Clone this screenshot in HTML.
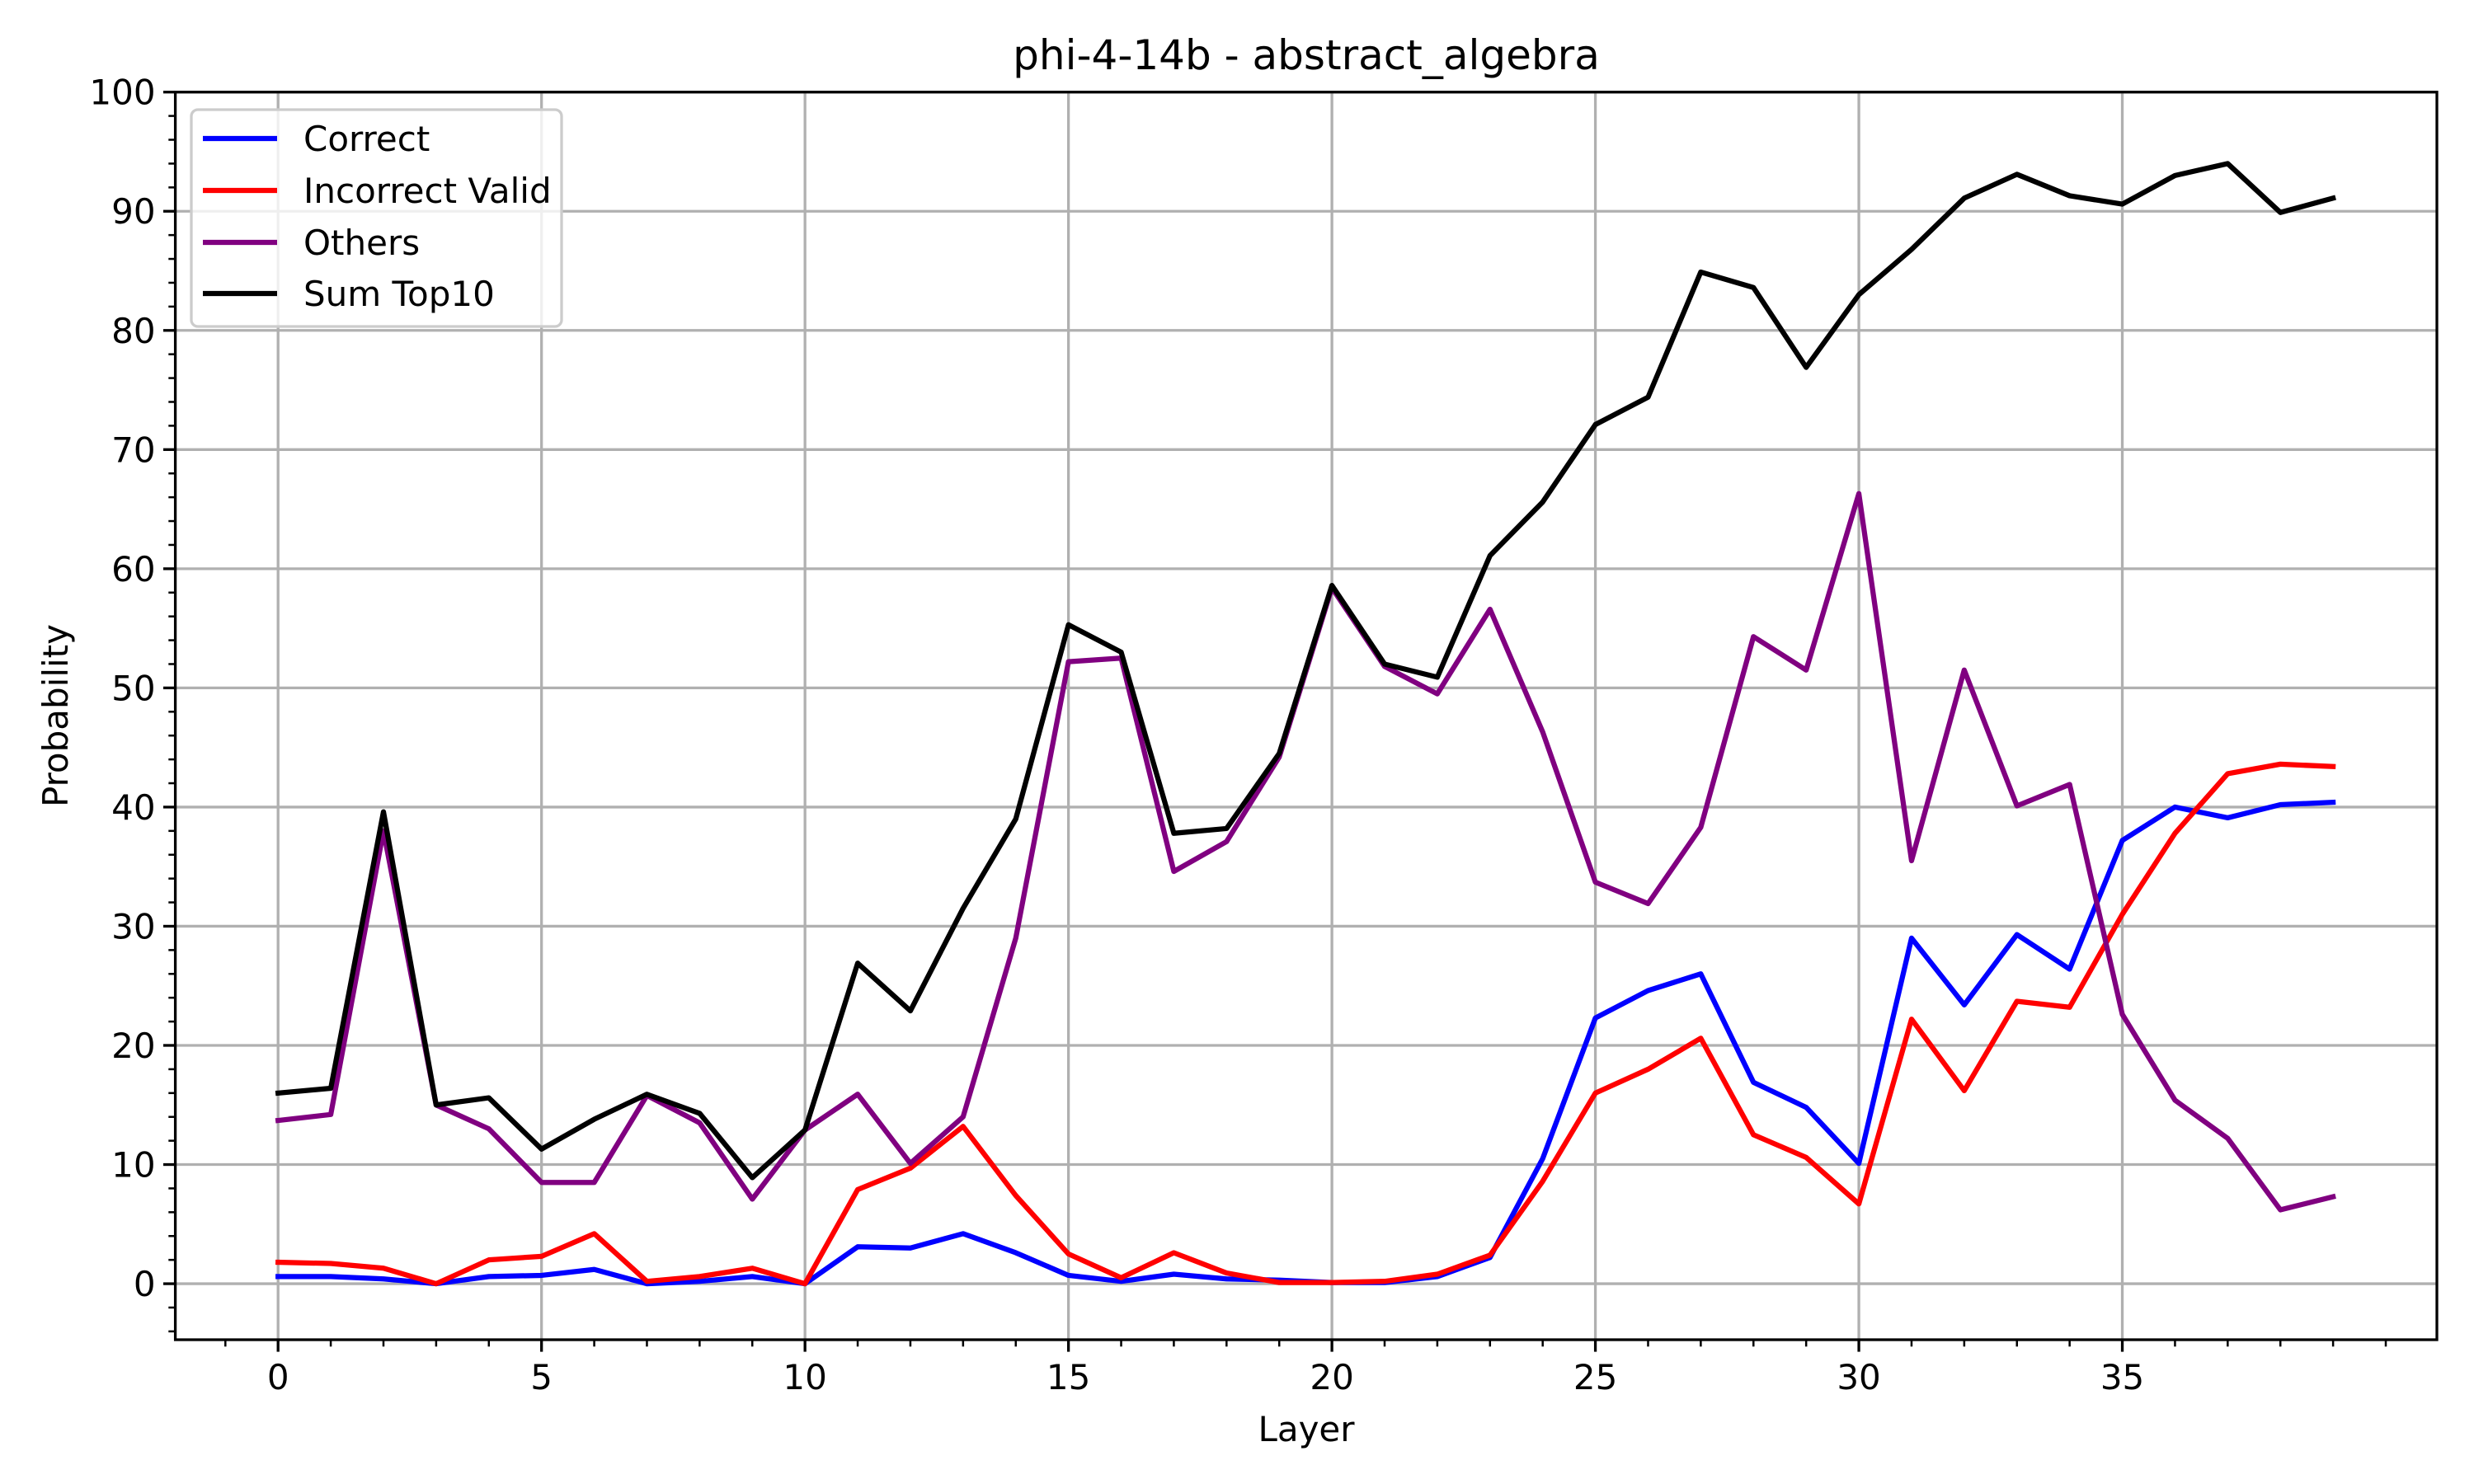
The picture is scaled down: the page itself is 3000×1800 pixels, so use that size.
<!DOCTYPE html>
<html><head><meta charset="utf-8"><style>
html,body{margin:0;padding:0;background:#fff;}
svg{display:block;font-family:"DejaVu Sans","Liberation Sans",sans-serif;}
</style></head><body>
<svg id="chart" width="3000" height="1800" viewBox="0 0 3000 1800" xmlns="http://www.w3.org/2000/svg">
<rect width="3000" height="1800" fill="#fff"/>
<text x="1584" y="84" font-size="50" text-anchor="middle">phi-4-14b - abstract_algebra</text>
<text x="1584" y="1748" font-size="42" text-anchor="middle">Layer</text>
<text x="82" y="868" font-size="42" text-anchor="middle" transform="rotate(-90 82 868)">Probability</text>
<g id="grid"></g>
<g id="series"></g>
<g id="axes"></g>
<g id="legend"></g>
</svg>
<script>
const layers = Array.from({length:40},(_,i)=>i);
const correct = [0.6,0.6,0.4,0,0.6,0.7,1.2,0,0.2,0.6,0,3.1,3.0,4.2,2.6,0.7,0.2,0.8,0.4,0.3,0.1,0.1,0.6,2.2,10.5,22.3,24.6,26.0,16.9,14.8,10.1,29.0,23.4,29.3,26.4,37.2,40.0,39.1,40.2,40.4];
const incorrectValid = [1.8,1.7,1.3,0,2.0,2.3,4.2,0.2,0.6,1.3,0,7.9,9.7,13.2,7.4,2.5,0.5,2.6,0.9,0.1,0.1,0.2,0.8,2.4,8.6,16.0,18.0,20.6,12.5,10.6,6.7,22.2,16.2,23.7,23.2,31.0,37.8,42.8,43.6,43.4];
const others = [13.7,14.2,38.0,15.0,13.0,8.5,8.5,15.8,13.5,7.1,12.9,15.9,10.1,14.0,29.0,52.2,52.5,34.6,37.1,44.2,58.4,51.8,49.5,56.6,46.3,33.7,31.9,38.3,54.3,51.5,66.3,35.5,51.5,40.1,41.9,22.6,15.4,12.2,6.2,7.3];
const sumTop10 = [16.0,16.4,39.6,15.0,15.6,11.3,13.8,15.9,14.3,8.9,12.9,26.9,22.9,31.5,39.0,55.3,53.0,37.8,38.2,44.5,58.6,52.0,50.9,61.1,65.6,72.1,74.4,84.9,83.6,76.9,83.0,86.8,91.1,93.1,91.3,90.6,93.0,94.0,89.9,91.1];
const xTicks = [0,5,10,15,20,25,30,35];
const yTicks = [0,10,20,30,40,50,60,70,80,90,100];

const NS="http://www.w3.org/2000/svg";
const L=212.6,R=2955,T=111.7,B=1625;
const xMin=-1.95,xMax=40.97,yMin=-4.7,yMax=100;
const X=v=>L+(v-xMin)/(xMax-xMin)*(R-L);
const Y=v=>B-(v-yMin)/(yMax-yMin)*(B-T);
function mk(tag,attrs,parent){const e=document.createElementNS(NS,tag);for(const k in attrs)e.setAttribute(k,attrs[k]);parent.appendChild(e);return e;}
const grid=document.getElementById('grid'),axes=document.getElementById('axes'),series=document.getElementById('series'),legend=document.getElementById('legend');

xTicks.forEach(t=>{
  const g=mk('line',{x1:X(t),x2:X(t),y1:T,y2:B,stroke:'#b0b0b0','stroke-width':3.3},grid);
  
  
  const tk=mk('line',{x1:X(t),x2:X(t),y1:B,y2:B+14.6,stroke:'#000','stroke-width':3.3},axes);
  
  
  const lb=mk('text',{x:X(t),y:B+60,'font-size':42,'text-anchor':'middle'},axes);
  lb.textContent=t;
  
  
});
for(let m=-1;m<=40;m++){ if(m%5===0&&m>=0&&m<=35) continue;
  const tk=mk('line',{x1:X(m),x2:X(m),y1:B,y2:B+8.3,stroke:'#000','stroke-width':2.5},axes);
  
  
}
yTicks.forEach(t=>{
  const g=mk('line',{x1:L,x2:R,y1:Y(t),y2:Y(t),stroke:'#b0b0b0','stroke-width':3.3},grid);
  
  
  const tk=mk('line',{x1:L-14.6,x2:L,y1:Y(t),y2:Y(t),stroke:'#000','stroke-width':3.3},axes);
  
  
  const lb=mk('text',{x:L-24,y:Y(t)+15,'font-size':42,'text-anchor':'end'},axes);
  lb.textContent=t;
  
  
});
for(let m=-4;m<100;m+=2){ if(m%10===0) continue;
  const tk=mk('line',{x1:L-8.3,x2:L,y1:Y(m),y2:Y(m),stroke:'#000','stroke-width':2.5},axes);
  
  
}
const frame=mk('rect',{x:L,y:T,width:R-L,height:B-T,fill:'none',stroke:'#000','stroke-width':3.3},axes);



const defs=[['correct-line',correct,'#0000ff','Correct'],['incorrect-valid-line',incorrectValid,'#ff0000','Incorrect Valid'],['others-line',others,'#800080','Others'],['sum-top10-line',sumTop10,'#000000','Sum Top10']];
defs.forEach(([name,arr,col])=>{
  const p=mk('polyline',{points:arr.map((v,i)=>X(layers[i])+','+Y(v)).join(' '),fill:'none',stroke:col,'stroke-width':6.25,'stroke-linejoin':'round','stroke-linecap':'square'},series);
  
  
});

const box=mk('rect',{x:232,y:133,width:449,height:263,rx:8,fill:'#fff','fill-opacity':0.8,stroke:'#cccccc','stroke-width':3.3},legend);


const rows=[168,231,294,356];
defs.forEach(([name,arr,col,label],i)=>{
  const h=mk('line',{x1:246,x2:336,y1:rows[i],y2:rows[i],stroke:col,'stroke-width':6.25},legend);
  
  
  const t=mk('text',{x:368,y:rows[i]+15,'font-size':42},legend);
  t.textContent=label;
  
  
});
</script>
</body></html>
